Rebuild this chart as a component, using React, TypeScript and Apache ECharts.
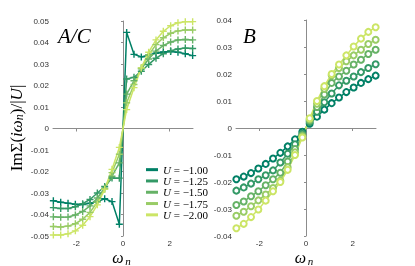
import React, { useEffect, useRef } from 'react';
import * as echarts from 'echarts';

const OMEGA = [
  -2.985, -2.67, -2.356, -2.042, -1.728, -1.414, -1.1, -0.785, -0.471, -0.157,
  0.157, 0.471, 0.785, 1.1, 1.414, 1.728, 2.042, 2.356, 2.67, 2.985,
];

const U_LABELS = ['U = −1.00', 'U = −1.25', 'U = −1.50', 'U = −1.75', 'U = −2.00'];
const COLORS = ['#008066', '#339966', '#66b266', '#99cc66', '#cce566'];

// Panel A/C
const AC_U100 = [-0.0336, -0.0343, -0.0348, -0.0352, -0.0354, -0.0348, -0.0340, -0.0327, -0.0340, -0.0445,
  0.0447, 0.0345, 0.0333, 0.0342, 0.0350, 0.0356, 0.0358, 0.0355, 0.0348, 0.0339];
const AC_U125 = [-0.0368, -0.0372, -0.0372, -0.0364, -0.0350, -0.0330, -0.0300, -0.0270, -0.0230, -0.0231,
  0.0230, 0.0238, 0.0266, 0.0298, 0.0327, 0.0348, 0.0362, 0.0370, 0.0374, 0.0372];
const AC_U150 = [-0.0411, -0.0413, -0.0412, -0.0402, -0.0386, -0.0360, -0.0323, -0.0278, -0.0222, -0.0160,
  0.0160, 0.0222, 0.0278, 0.0323, 0.0360, 0.0386, 0.0402, 0.0412, 0.0414, 0.0412];
const AC_U175 = [-0.0456, -0.0458, -0.0454, -0.0443, -0.0422, -0.0390, -0.0342, -0.0282, -0.0205, -0.0120,
  0.0120, 0.0205, 0.0282, 0.0342, 0.0390, 0.0422, 0.0443, 0.0454, 0.0458, 0.0458];
const AC_U200 = [-0.0495, -0.0495, -0.0490, -0.0476, -0.0450, -0.0410, -0.0355, -0.0282, -0.0190, -0.0088,
  0.0088, 0.0190, 0.0282, 0.0355, 0.0412, 0.0452, 0.0478, 0.0492, 0.0497, 0.0497];

// Panel B
const B_U100 = [-0.0190, -0.0180, -0.0167, -0.0150, -0.0133, -0.0113, -0.0092, -0.0068, -0.0042, -0.0014,
  0.0016, 0.0042, 0.0068, 0.0092, 0.0113, 0.0133, 0.0150, 0.0167, 0.0181, 0.0194];
const B_U125 = [-0.0232, -0.0220, -0.0206, -0.0190, -0.0175, -0.0157, -0.0128, -0.0095, -0.0060, -0.0021,
  0.0022, 0.0060, 0.0095, 0.0128, 0.0158, 0.0175, 0.0191, 0.0207, 0.0222, 0.0236];
const B_U150 = [-0.0285, -0.0272, -0.0253, -0.0234, -0.0212, -0.0190, -0.0166, -0.0124, -0.0078, -0.0027,
  0.0028, 0.0078, 0.0124, 0.0167, 0.0191, 0.0212, 0.0235, 0.0253, 0.0274, 0.0290];
const B_U175 = [-0.0325, -0.0310, -0.0290, -0.0268, -0.0246, -0.0222, -0.0195, -0.0145, -0.0090, -0.0031,
  0.0032, 0.0090, 0.0145, 0.0195, 0.0222, 0.0247, 0.0269, 0.0290, 0.0311, 0.0327];
const B_U200 = [-0.0371, -0.0355, -0.0330, -0.0302, -0.0269, -0.0234, -0.0200, -0.0155, -0.0100, -0.0035,
  0.0036, 0.0100, 0.0155, 0.0200, 0.0235, 0.0269, 0.0302, 0.0331, 0.0356, 0.0373];

const AC_SERIES = [AC_U100, AC_U125, AC_U150, AC_U175, AC_U200];
const B_SERIES = [B_U100, B_U125, B_U150, B_U175, B_U200];
const X_TICKS = [-2, 0, 2];

const PLUS = 'path://M4,0L6,0L6,4L10,4L10,6L6,6L6,10L4,10L4,6L0,6L0,4L4,4Z';
const SERIF = 'Liberation Serif';
const SANS = 'Liberation Sans';

const Y_RICH = {
  rm: { fontFamily: SERIF, fontSize: 17, fill: '#000', lineHeight: 17 },
  it: { fontFamily: SERIF, fontStyle: 'italic', fontSize: 17, fill: '#000', lineHeight: 17 },
  sub: { fontFamily: SERIF, fontStyle: 'italic', fontSize: 12, fill: '#000', lineHeight: 7, verticalAlign: 'bottom' },
};

export default function App() {
  const ref = useRef<HTMLDivElement>(null);
  useEffect(() => {
    const chart = echarts.init(ref.current!, null, { renderer: 'svg' });
    const axisLine = { show: true, lineStyle: { color: '#8c8c8c', width: 1 } };
    const yLabel = {
      fontSize: 8,
      fontFamily: SANS,
      color: '#333',
      margin: 4,
      formatter: (v: number) => (Math.abs(v) < 1e-9 ? '0' : v.toFixed(2)),
    };
    const xAxisCommon = {
      type: 'value',
      min: -3,
      max: 3,
      axisLine,
      splitLine: { show: false },
      axisTick: { show: true, length: 3, customValues: X_TICKS, lineStyle: { color: '#8c8c8c' } },
      axisLabel: { fontSize: 8, fontFamily: SANS, color: '#333', margin: 3, lineHeight: 8, customValues: X_TICKS },
    };
    const yAxisCommon = {
      type: 'value',
      axisLine,
      splitLine: { show: false },
      axisTick: { show: true, length: 2, lineStyle: { color: '#8c8c8c' } },
      axisLabel: yLabel,
    };
    const series: any[] = [];
    AC_SERIES.forEach((arr, k) => {
      series.push({
        type: 'line',
        name: U_LABELS[k],
        xAxisIndex: 0,
        yAxisIndex: 0,
        data: OMEGA.map((w, i) => [w, arr[i]]),
        symbol: PLUS,
        symbolSize: 7,
        showAllSymbol: true,
        color: COLORS[k],
        lineStyle: { width: 1.5, color: COLORS[k] },
        itemStyle: { color: COLORS[k] },
      });
    });
    B_SERIES.forEach((arr, k) => {
      series.push({
        type: 'line',
        name: U_LABELS[k],
        xAxisIndex: 1,
        yAxisIndex: 1,
        data: OMEGA.map((w, i) => [w, arr[i]]),
        symbol: 'emptyCircle',
        symbolSize: 6,
        showAllSymbol: true,
        color: COLORS[k],
        lineStyle: { width: 1.5, color: COLORS[k] },
        itemStyle: { color: COLORS[k], borderColor: COLORS[k], borderWidth: 1.8 },
      });
    });

    const txt = (x: number, y: number, text: string, fontSize: number, lineHeight: number, italic = true) => ({
      type: 'text',
      x,
      y,
      style: {
        text,
        fontFamily: SERIF,
        fontStyle: italic ? 'italic' : 'normal',
        fontSize,
        lineHeight,
        fill: '#000',
        align: 'center',
        verticalAlign: 'middle',
      },
    });

    chart.setOption({
      animation: false,
      grid: [
        { left: 53, top: 21, width: 140, height: 215 },
        { left: 236, top: 20, width: 140, height: 216 },
      ],
      xAxis: [
        { ...xAxisCommon, gridIndex: 0 },
        { ...xAxisCommon, gridIndex: 1 },
      ],
      yAxis: [
        { ...yAxisCommon, gridIndex: 0, min: -0.05, max: 0.05, interval: 0.01 },
        { ...yAxisCommon, gridIndex: 1, min: -0.04, max: 0.04, interval: 0.01 },
      ],
      legend: {
        data: U_LABELS,
        orient: 'vertical',
        left: 141,
        top: 159,
        icon: 'rect',
        itemWidth: 12,
        itemHeight: 3,
        itemGap: 0,
        formatter: (name: string) => '{i|U}' + name.slice(1),
        textStyle: {
          fontFamily: SERIF,
          fontSize: 11,
          color: '#000',
          lineHeight: 11.3,
          rich: { i: { fontFamily: SERIF, fontStyle: 'italic', fontSize: 11, color: '#000', lineHeight: 11.3 } },
        },
      },
      graphic: [
        {
          type: 'text',
          x: 16,
          y: 128,
          rotation: Math.PI / 2,
          style: {
            text: '{rm|ImΣ(}{it|iω}{sub|n}{rm|)/|}{it|U}{rm||}',
            fontFamily: SERIF,
            fontSize: 17,
            lineHeight: 17,
            fill: '#000',
            align: 'center',
            verticalAlign: 'middle',
            rich: Y_RICH,
          },
        },
        txt(118, 257.5, 'ω', 16, 10),
        txt(128, 261, 'n', 11, 7),
        txt(300.5, 257.5, 'ω', 16, 10),
        txt(310.5, 261, 'n', 11, 7),
        {
          type: 'text',
          x: 58,
          y: 36,
          style: {
            text: 'A/C',
            fontFamily: SERIF,
            fontStyle: 'italic',
            fontSize: 21,
            fill: '#000',
            align: 'left',
            verticalAlign: 'middle',
          },
        },
        {
          type: 'text',
          x: 243,
          y: 36,
          style: {
            text: 'B',
            fontFamily: SERIF,
            fontStyle: 'italic',
            fontSize: 21,
            fill: '#000',
            align: 'left',
            verticalAlign: 'middle',
          },
        },
      ],
      series,
    });
    return () => chart.dispose();
  }, []);
  return <div ref={ref} style={{ position: 'fixed', left: 0, top: 0, width: 415, height: 266 }} />;
}
